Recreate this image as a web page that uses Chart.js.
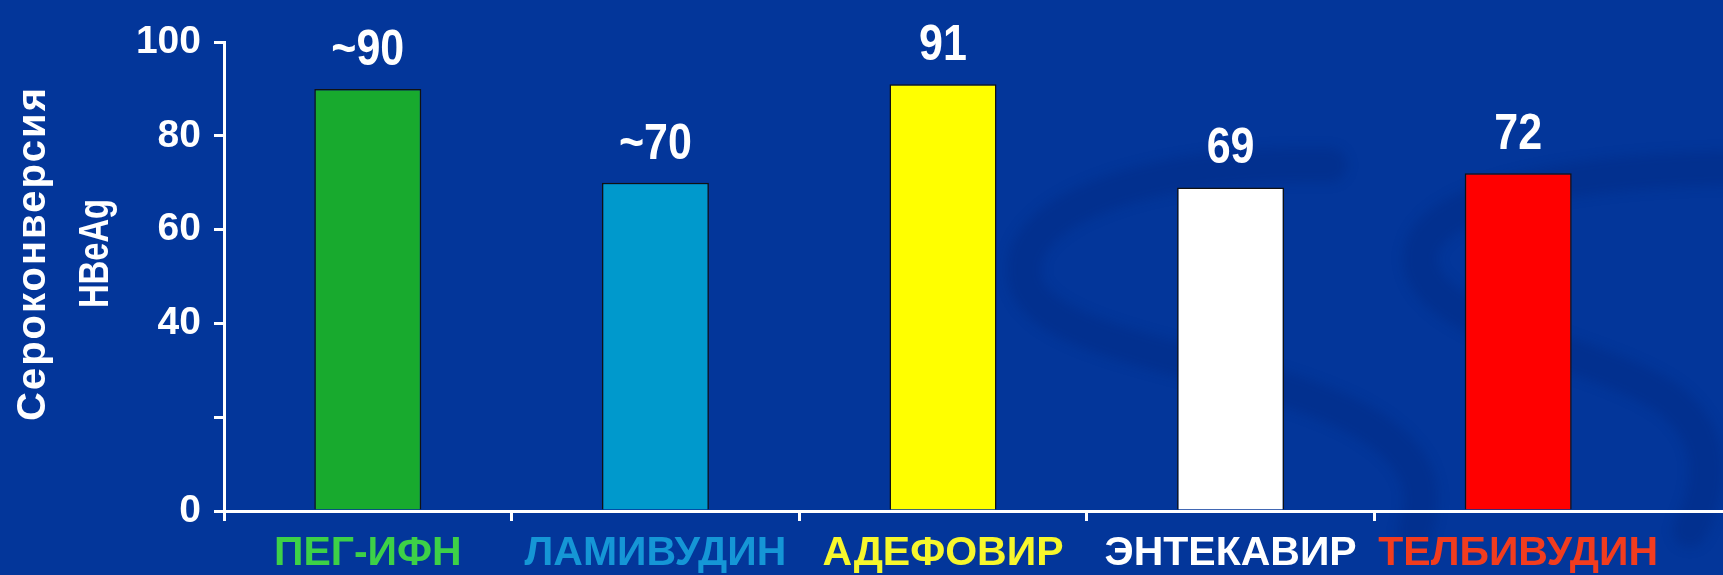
<!DOCTYPE html>
<html lang="ru">
<head>
<meta charset="utf-8">
<script src="https://cdn.jsdelivr.net/npm/chart.js@4.4.1/dist/chart.umd.min.js"></script>
<style>
  html, body { margin: 0; padding: 0; background: #03369a; overflow: hidden; }
  canvas { display: block; }
</style>
</head>
<body>
<canvas id="chartSeroconversion" width="1723" height="575"></canvas>
<script>
const drugs = ['ПЕГ-ИФН', 'ЛАМИВУДИН', 'АДЕФОВИР', 'ЭНТЕКАВИР', 'ТЕЛБИВУДИН']
const seroconversion = [90, 70, 91, 69, 72]
const valueLabels = ['~90', '~70', '91', '69', '72']
const barColors = ['#18aa2e', '#0099cc', '#ffff00', '#ffffff', '#ff0000']
const drugColors = ['#3dd147', '#1596d6', '#f7f72c', '#ffffff', '#f23c1e']
const yTickValues = [0, 20, 40, 60, 80, 100]
const yTickLabels = ['0', '', '40', '60', '80', '100']
const yTitle = ['Сероконверсия', 'HBeAg']

const FONT = '"Liberation Sans", Arial, sans-serif'

// faint S-shaped swirls of the slide background
const backdropPlugin = {
    id: 'backdrop',
    beforeDraw(chart) {
        const ctx = chart.ctx
        ctx.save()
        ctx.strokeStyle = 'rgba(0, 25, 100, 0.2)'
        ctx.lineWidth = 34
        ctx.lineCap = 'round'
        ctx.filter = 'blur(6px)'
        ctx.beginPath()
        ctx.moveTo(1330, 165)
        ctx.bezierCurveTo(1150, 160, 1010, 210, 1025, 280)
        ctx.bezierCurveTo(1040, 350, 1250, 360, 1360, 420)
        ctx.bezierCurveTo(1430, 460, 1425, 500, 1415, 530)
        ctx.moveTo(1740, 168)
        ctx.bezierCurveTo(1560, 170, 1420, 200, 1420, 260)
        ctx.bezierCurveTo(1425, 330, 1600, 350, 1670, 400)
        ctx.bezierCurveTo(1720, 440, 1710, 490, 1690, 530)
        ctx.stroke()
        ctx.restore()
    }
}

// numbers over the bars
const valueLabelsPlugin = {
    id: 'valueLabels',
    afterDatasetsDraw(chart) {
        const ctx = chart.ctx
        ctx.save()
        ctx.fillStyle = '#fff'
        ctx.font = `bold 43px ${FONT}`
        ctx.textAlign = 'center'
        ctx.textBaseline = 'alphabetic'
        chart.getDatasetMeta(0).data.forEach((bar, i) => {
            ctx.save()
            ctx.translate(bar.x, bar.y - 24)
            ctx.scale(1, 1.17)
            ctx.fillText(valueLabels[i], 0, 0)
            ctx.restore()
        })
        ctx.restore()
    }
}

// rotated two-line axis title
const yTitlePlugin = {
    id: 'yTitle',
    afterDraw(chart) {
        const ctx = chart.ctx
        const y = chart.scales.y
        const mid = (y.top + y.bottom) / 2 - 23
        const lines = [
            { baseline: 45, size: 40, spacing: '2px', squeeze: 1 },
            { baseline: 108, size: 42, spacing: '0px', squeeze: 0.78 }
        ]
        ctx.save()
        ctx.fillStyle = '#fff'
        ctx.textAlign = 'center'
        ctx.textBaseline = 'alphabetic'
        yTitle.forEach((text, i) => {
            const l = lines[i]
            ctx.save()
            ctx.font = `bold ${l.size}px ${FONT}`
            ctx.letterSpacing = l.spacing
            ctx.translate(l.baseline, mid)
            ctx.rotate(-Math.PI / 2)
            ctx.scale(l.squeeze, 1)
            ctx.fillText(text, 0, 0)
            ctx.restore()
        })
        ctx.restore()
    }
}

// x axis line runs on to the right edge
const axisLinePlugin = {
    id: 'axisLine',
    afterDraw(chart) {
        const { ctx, chartArea, width } = chart
        const y = Math.round(chartArea.bottom - 1.5) + 1.5
        ctx.save()
        ctx.strokeStyle = '#fff'
        ctx.lineWidth = 3
        ctx.beginPath()
        ctx.moveTo(chartArea.right - 2, y)
        ctx.lineTo(width, y)
        ctx.stroke()
        ctx.restore()
    }
}

const data = {
    labels: drugs,
    datasets: [{
        data: seroconversion,
        backgroundColor: barColors,
        borderColor: '#111',
        borderWidth: 1.5,
        barPercentage: 0.372,
        categoryPercentage: 1
    }]
}

const options = {
    responsive: false,
    animation: false,
    layout: { padding: { top: 42, right: 61, left: 0, bottom: 0 } },
    plugins: {
        legend: { display: false },
        tooltip: { enabled: false }
    },
    scales: {
        x: {
            afterFit: s => { s.height = 64 },
            border: { display: true, color: '#fff', width: 3 },
            grid: {
                offset: true,
                drawOnChartArea: false,
                tickLength: 10,
                lineWidth: 3,
                // no tick after the last category
                color: c => c.type === 'tick' ? '#fff' : 'rgba(0,0,0,0)'
            },
            ticks: {
                color: c => drugColors[c.index],
                font: { family: FONT, size: 41, weight: 'bold' },
                padding: 8,
                maxRotation: 0,
                autoSkip: false
            }
        },
        y: {
            min: 0,
            max: 100,
            afterFit: s => { s.width = 224 },
            afterBuildTicks: s => { s.ticks = yTickValues.map(v => ({ value: v })) },
            border: { display: true, color: '#fff', width: 3 },
            grid: {
                drawOnChartArea: false,
                tickLength: 10,
                lineWidth: 3,
                color: '#fff'
            },
            ticks: {
                color: '#fff',
                font: { family: FONT, size: 39, weight: 'bold' },
                padding: 13,
                callback: (v, i) => yTickLabels[i]
            }
        }
    }
}

new Chart('chartSeroconversion', {
    type: 'bar',
    data,
    options,
    plugins: [backdropPlugin, valueLabelsPlugin, yTitlePlugin, axisLinePlugin]
})
</script>
</body>
</html>
